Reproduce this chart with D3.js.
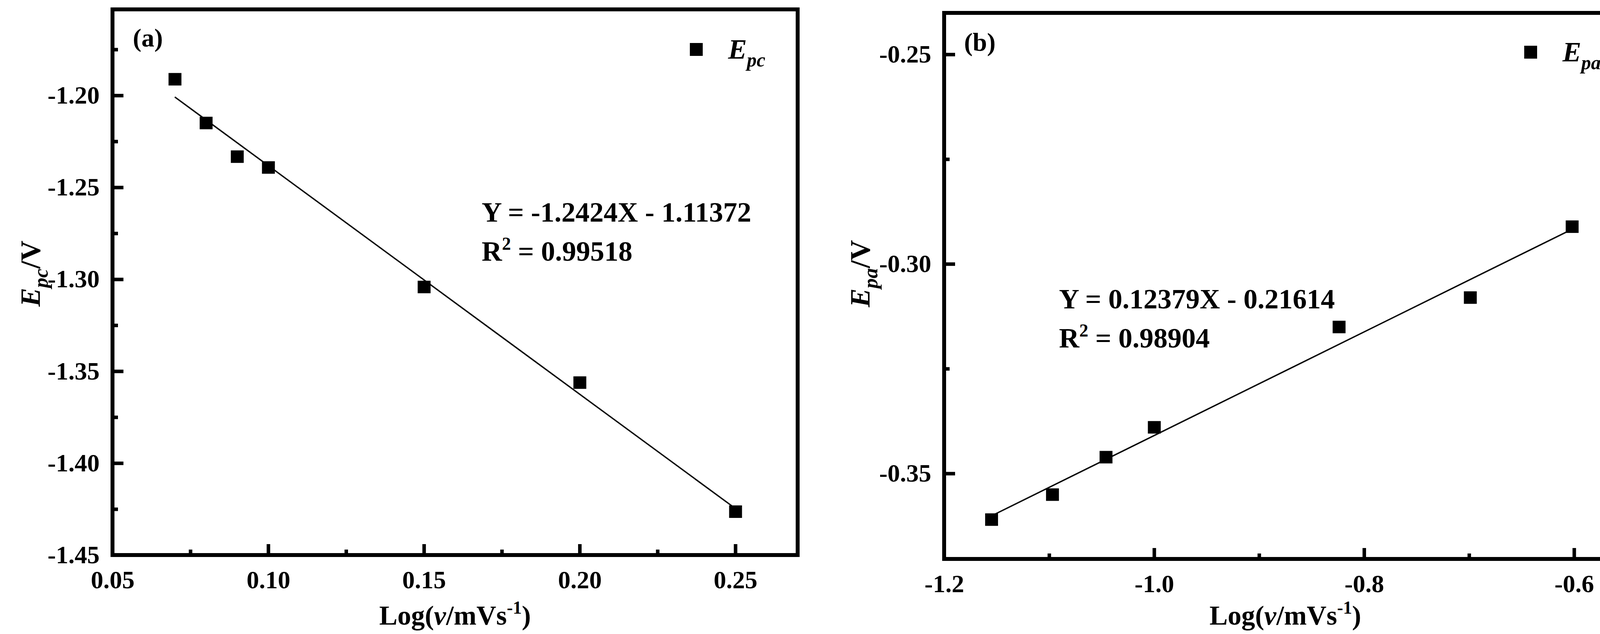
<!DOCTYPE html>
<html><head><meta charset="utf-8">
<script src="https://cdn.jsdelivr.net/npm/d3@7"></script>
<style>body{margin:0;background:#fff}svg{display:block}text{font-family:"Liberation Serif","Times New Roman",serif;font-weight:bold;fill:#000}</style>
</head><body><svg id="c" width="4188" height="1622"></svg>
<script>
const xA = [0.07,0.08,0.09,0.10,0.15,0.20,0.25];
const yA = [-1.1912,-1.2150,-1.2333,-1.2392,-1.3042,-1.3562,-1.4264];
const xB = [-1.155,-1.097,-1.046,-1.000,-0.824,-0.699,-0.602];
const yB = [-0.36101,-0.35505,-0.34611,-0.33899,-0.31505,-0.30803,-0.29111];
const ticksAX = [0.05,0.10,0.15,0.20,0.25];
const ticksAY = [-1.45,-1.40,-1.35,-1.30,-1.25,-1.20];
const ticksBX = [-1.2,-1.0,-0.8,-0.6];
const ticksBY = [-0.35,-0.30,-0.25];
const eqA = ["Y = -1.2424X - 1.11372","0.99518"];
const eqB = ["Y = 0.12379X - 0.21614","0.98904"];

const svg = d3.select("#c");
function fit(xs, ys){const mx=d3.mean(xs),my=d3.mean(ys);
 let sxy=0,sxx=0;xs.forEach((x,i)=>{sxy+=(x-mx)*(ys[i]-my);sxx+=(x-mx)**2});
 const b=sxy/sxx;return x=>my+b*(x-mx);}
const hy=(f)=>d=>f(d).replace("\u2212","-");
function panel(o){
 const g=svg.append("g");
 const x=d3.scaleLinear().domain(o.xd).range([o.l,o.r]);
 const y=d3.scaleLinear().domain(o.yd).range([o.b,o.t]);
 g.append("rect").attr("x",o.l).attr("y",o.t).attr("width",o.r-o.l).attr("height",o.b-o.t).attr("fill","none").attr("stroke","#000").attr("stroke-width",10);
 const ax=g.append("g").attr("transform",`translate(0,${o.b})`).call(d3.axisBottom(x).tickValues(o.tx).tickFormat(hy(d3.format(o.fx))).tickSizeInner(-28).tickSizeOuter(0).tickPadding(40));
 const axm=g.append("g").attr("transform",`translate(0,${o.b})`).call(d3.axisBottom(x).tickValues(o.mx).tickFormat("").tickSizeInner(-14).tickSizeOuter(0));
 const ay=g.append("g").attr("transform",`translate(${o.l},0)`).call(d3.axisLeft(y).tickValues(o.ty).tickFormat(hy(d3.format(o.fy))).tickSizeInner(-28).tickSizeOuter(0).tickPadding(33));
 const aym=g.append("g").attr("transform",`translate(${o.l},0)`).call(d3.axisLeft(y).tickValues(o.my).tickFormat("").tickSizeInner(-14).tickSizeOuter(0));
 [ax,axm,ay,aym].forEach(a=>{a.select(".domain").remove();a.selectAll("line").attr("stroke","#000").attr("stroke-width",9);
   a.selectAll("text").style("font-size","64px").style("font-family","Liberation Serif").style("font-weight","bold");});
 ax.selectAll("text").attr("dy","0.71em");
 const f=fit(o.xs,o.ys);
 const lx=[o.xs[0],o.xs[o.xs.length-1]];
 g.append("line").attr("x1",x(lx[0])).attr("y1",y(f(lx[0]))).attr("x2",x(lx[1])).attr("y2",y(f(lx[1]))).attr("stroke","#000").attr("stroke-width",3.5);
 g.selectAll("rect.p").data(o.xs).join("rect").attr("class","p").attr("x",(d)=>x(d)-16).attr("y",(d,i)=>y(o.ys[i])-16).attr("width",33).attr("height",32).attr("fill","#000");
 g.append("text").attr("x",o.lab[0]).attr("y",o.lab[1]).style("font-size","66px").text(o.lab[2]);
 g.append("rect").attr("x",o.leg[0]-16).attr("y",o.leg[1]-16).attr("width",33).attr("height",33);
 const lt=g.append("text").attr("x",o.leg[0]+82).attr("y",o.leg[1]+24).style("font-size","72px").style("font-style","italic");
 lt.append("tspan").text("E");lt.append("tspan").attr("dy",20).style("font-size","50px").text(o.sub);
 g.append("text").attr("x",o.eq[0]).attr("y",o.eq[1]).style("font-size","72px").text(o.eqt[0]);
 const r=g.append("text").attr("x",o.eq[0]).attr("y",o.eq[1]+100).style("font-size","72px");
 r.append("tspan").text("R");r.append("tspan").attr("dy",-28).style("font-size","46px").text("2");r.append("tspan").attr("dy",28).text(" = "+o.eqt[1]);
 const xl=g.append("text").attr("x",(o.l+o.r)/2).attr("y",1598).attr("text-anchor","middle").style("font-size","70px");
 xl.append("tspan").text("Log(");xl.append("tspan").style("font-style","italic").text("v");xl.append("tspan").text("/mVs");
 xl.append("tspan").attr("dy",-28).style("font-size","46px").text("-1");xl.append("tspan").attr("dy",28).text(")");
 const yl=g.append("text").attr("transform",`translate(${o.ylx},${o.yly}) rotate(-90)`).attr("text-anchor","middle").style("font-size","72px");
 yl.append("tspan").style("font-style","italic").text("E");yl.append("tspan").attr("dy",20).style("font-style","italic").style("font-size","52px").text(o.sub);
 yl.append("tspan").attr("dy",-20).text("/V");
}
panel({l:288,r:2042,t:24,b:1420,xd:[0.05,0.27],yd:[-1.45,-1.1532],tx:ticksAX,mx:[0.075,0.125,0.175,0.225],
 ty:ticksAY,my:[-1.425,-1.375,-1.325,-1.275,-1.225,-1.175],fx:".2f",fy:".2f",xs:xA,ys:yA,
 lab:[340,119,"(a)"],leg:[1782,126],sub:"pc",eq:[1233,567],eqt:eqA,ylx:102,yly:700});
panel({l:2417,r:4164,t:33,b:1430,xd:[-1.2,-0.55],yd:[-0.3704,-0.2401],tx:ticksBX,mx:[-1.1,-0.9,-0.7],
 ty:ticksBY,my:[-0.325,-0.275],fx:".1f",fy:".2f",xs:xB,ys:yB,
 lab:[2468,130,"(b)"],leg:[3918,133],sub:"pa",eq:[2711,789],eqt:eqB,ylx:2226,yly:700});
</script></body></html>
